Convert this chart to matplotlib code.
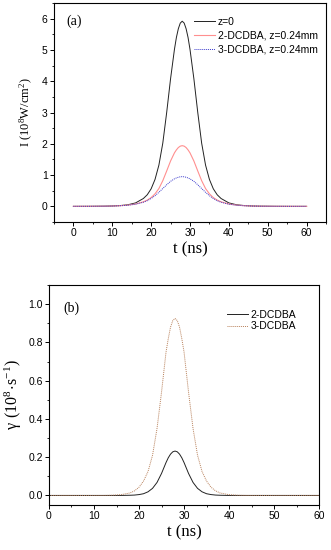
import numpy as np
import matplotlib
matplotlib.use('Agg')
import matplotlib.pyplot as plt
from matplotlib.ticker import MultipleLocator, FormatStrFormatter

plt.rcParams['font.family'] = ['Liberation Sans', 'DejaVu Sans']
plt.rcParams['mathtext.fontset'] = 'custom'
plt.rcParams['mathtext.rm'] = 'Liberation Serif'

# time grid (ns), shared by both panels
t = [0, 4, 8, 10, 12, 14, 16,
     18, 19, 20, 21, 22, 23, 24, 25, 26, 26.5, 27, 27.5, 28, 28.5, 29, 29.5,
     30, 31, 32, 33, 34, 35, 36, 37, 38,
     40, 42, 44, 46, 48, 52, 56, 60]

# panel (a): intensity, 10^8 W/cm^2
I_z0 = [0, 0.0015, 0.006, 0.012, 0.025, 0.05, 0.11,
        0.25, 0.37, 0.56, 0.86, 1.32, 2.02, 3.00, 4.08, 5.02, 5.40, 5.68, 5.86, 5.92,
        5.86, 5.68, 5.40, 5.02, 4.08, 3.00, 2.02, 1.32, 0.86, 0.56, 0.37, 0.25,
        0.11, 0.05, 0.025, 0.012, 0.006, 0.0015, 0, 0]
I_2dcdba = [0, 0.0012, 0.005, 0.01, 0.02, 0.04, 0.075,
            0.145, 0.20, 0.28, 0.40, 0.57, 0.82, 1.13, 1.45, 1.71, 1.805, 1.88, 1.925, 1.94,
            1.925, 1.88, 1.805, 1.71, 1.45, 1.13, 0.82, 0.57, 0.40, 0.28, 0.20, 0.145,
            0.075, 0.04, 0.02, 0.01, 0.005, 0.0012, 0, 0]
I_3dcdba = [0, 0.001, 0.0045, 0.009, 0.018, 0.035, 0.068,
            0.13, 0.18, 0.25, 0.34, 0.45, 0.57, 0.69, 0.80, 0.88, 0.908, 0.93, 0.945, 0.95,
            0.945, 0.93, 0.908, 0.88, 0.80, 0.69, 0.57, 0.45, 0.34, 0.25, 0.18, 0.13,
            0.068, 0.035, 0.018, 0.009, 0.0045, 0.001, 0, 0]

# panel (b): gamma, 10^8 s^-1
g_2dcdba = [0, 0, 0, 0, 0, 0, 0,
            0.001, 0.002, 0.0045, 0.009, 0.019, 0.037, 0.068, 0.115, 0.172, 0.197, 0.216, 0.228, 0.232,
            0.228, 0.216, 0.197, 0.172, 0.115, 0.068, 0.037, 0.019, 0.009, 0.0045, 0.002, 0.001,
            0, 0, 0, 0, 0, 0, 0, 0]
g_3dcdba = [0, 0, 0, 0, 0, 0.001, 0.004,
            0.013, 0.024, 0.043, 0.075, 0.125, 0.21, 0.35, 0.54, 0.75, 0.82, 0.88, 0.914, 0.925,
            0.914, 0.88, 0.82, 0.75, 0.54, 0.35, 0.21, 0.125, 0.075, 0.043, 0.024, 0.013,
            0.004, 0.001, 0, 0, 0, 0, 0, 0]

fig = plt.figure(figsize=(3.31, 5.50), dpi=100)
ax1 = fig.add_axes([0.163, 0.5964, 0.822, 0.398])
ax2 = fig.add_axes([0.148, 0.0818, 0.816, 0.400])

serif = 'Liberation Serif'

for ax in (ax1, ax2):
    ax.tick_params(which='major', direction='out', length=3, width=0.7, labelsize=7.5, pad=1.5)
    ax.tick_params(which='minor', direction='out', length=1.5, width=0.6)
    for s in ax.spines.values():
        s.set_linewidth(0.8)

# (a)
ax1.plot(t, I_z0, color='#222222', lw=0.7, label='z=0')
ax1.plot(t, I_2dcdba, color='#ff8f8f', lw=0.8, label='2-DCDBA, z=0.24mm')
ax1.plot(t, I_3dcdba, color='#3a3acc', lw=0.7, ls=(0, (1, 1)), label='3-DCDBA, z=0.24mm')
ax1.set_xlim(-5, 65)
ax1.set_ylim(-0.5, 6.5)
ax1.xaxis.set_major_locator(MultipleLocator(10))
ax1.xaxis.set_minor_locator(MultipleLocator(5))
ax1.yaxis.set_major_locator(MultipleLocator(1))
ax1.yaxis.set_minor_locator(MultipleLocator(0.5))
ax1.set_xlabel('t (ns)', fontfamily=serif, fontsize=12, labelpad=2)
ax1.set_ylabel(r'I ($\mathregular{10^8}$W/cm$\mathregular{^2}$)', fontfamily=serif, fontsize=9, labelpad=5)
ax1.text(0.045, 0.915, '(a)', transform=ax1.transAxes, fontfamily=serif, fontsize=10, va='center')
ax1.legend(loc='upper right', bbox_to_anchor=(1.0, 0.975), frameon=False, fontsize=7.5,
           handlelength=2.0, handletextpad=0.25, labelspacing=0.38, borderaxespad=0.5,
           borderpad=0.3)

# (b)
ax2.plot(t, g_2dcdba, color='#222222', lw=0.7, label='2-DCDBA')
ax2.plot(t, g_3dcdba, color='#b8805a', lw=0.7, ls=(0, (1, 1)), label='3-DCDBA')
ax2.set_xlim(0, 60)
ax2.set_ylim(-0.05, 1.1)
ax2.xaxis.set_major_locator(MultipleLocator(10))
ax2.xaxis.set_minor_locator(MultipleLocator(5))
ax2.yaxis.set_major_locator(MultipleLocator(0.2))
ax2.yaxis.set_minor_locator(MultipleLocator(0.1))
ax2.yaxis.set_major_formatter(FormatStrFormatter('%.1f'))
ax2.set_xlabel('t (ns)', fontfamily=serif, fontsize=12, labelpad=2)
ax2.set_ylabel(r'$\mathregular{\gamma\ (10^8\!\cdot\! s^{-1})}$', fontfamily=serif, fontsize=11.5, labelpad=3)
ax2.text(0.055, 0.895, '(b)', transform=ax2.transAxes, fontfamily=serif, fontsize=10, va='center')
ax2.legend(loc='upper right', bbox_to_anchor=(0.945, 0.925), frameon=False, fontsize=7.5,
           handlelength=2.0, handletextpad=0.25, labelspacing=0.15, borderaxespad=0.5,
           borderpad=0.3)

fig.savefig('out.png', dpi=100)
